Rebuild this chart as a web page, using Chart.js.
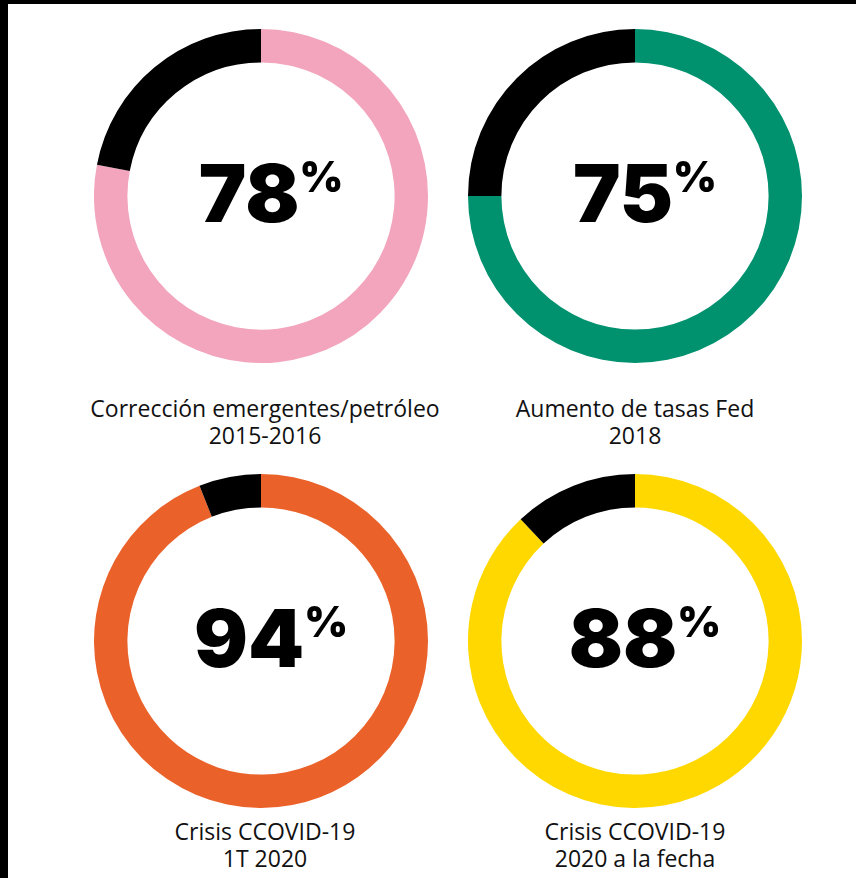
<!DOCTYPE html>
<html>
<head>
<meta charset="utf-8">
<script src="https://cdn.jsdelivr.net/npm/chart.js@4"></script>
<style>
  body { margin: 0; width: 856px; height: 878px; background: #fff; position: relative; overflow: hidden; }
  .frameTop { position: absolute; left: 0; top: 0; width: 856px; height: 4px; background: #000; }
  .frameLeft { position: absolute; left: 0; top: 0; width: 8px; height: 878px; background: #000; }
  .donut { position: absolute; width: 334px; height: 334px; }
  .label { position: absolute; width: 440px; text-align: center; font-family: "Open Sans", sans-serif; font-size: 23px; line-height: 27px; color: #111; }
</style>
</head>
<body>
<div class="frameTop"></div>
<div class="frameLeft"></div>

<div class="donut" style="left:94px;top:29px"><canvas id="c0"></canvas></div>
<div class="donut" style="left:468px;top:29px"><canvas id="c1"></canvas></div>
<div class="donut" style="left:94px;top:474px"><canvas id="c2"></canvas></div>
<div class="donut" style="left:468px;top:474px"><canvas id="c3"></canvas></div>

<div class="label" id="l0" style="left:45px;top:395px"></div>
<div class="label" id="l1" style="left:415px;top:395px"></div>
<div class="label" id="l2" style="left:45px;top:818px"></div>
<div class="label" id="l3" style="left:415px;top:818px"></div>

<script>
var episodes = ['Corrección emergentes/petróleo', 'Aumento de tasas Fed', 'Crisis CCOVID-19', 'Crisis CCOVID-19'];
var periods = ['2015-2016', '2018', '1T 2020', '2020 a la fecha'];
var shares = [78, 75, 94, 88];
var colors = ['#F2A5BC', '#00916E', '#EA622A', '#FFD800'];

// big number in the middle, with a small raised % sign
var centerText = {
  id: 'centerText',
  afterDraw: function (chart) {
    var meta = chart.getDatasetMeta(0).data[0];
    var cx = meta.x, cy = meta.y;
    var ctx = chart.ctx;
    var num = String(chart.data.datasets[0].data[0]);
    var bigFont = '900 80px Inter, "Liberation Sans", sans-serif';
    var smallFont = '900 42px Inter, "Liberation Sans", sans-serif';
    ctx.save();
    ctx.fillStyle = '#000';
    ctx.textBaseline = 'alphabetic';
    ctx.textAlign = 'left';
    ctx.font = bigFont;
    var w1 = ctx.measureText(num).width;
    ctx.font = smallFont;
    var w2 = ctx.measureText('%').width;
    var x0 = cx - (w1 + w2) / 2 + 10;
    ctx.font = bigFont;
    ctx.fillText(num, x0, cy + 26);
    ctx.font = smallFont;
    ctx.fillText('%', x0 + w1, cy - 4);
    ctx.restore();
  }
};

for (var i = 0; i < shares.length; i++) {
  document.getElementById('l' + i).innerHTML = episodes[i] + '<br>' + periods[i];
  new Chart(document.getElementById('c' + i).getContext('2d'), {
    type: 'doughnut',
    data: {
      labels: ['Sí', 'No'],
      datasets: [{
        data: [shares[i], 100 - shares[i]],
        backgroundColor: [colors[i], '#000000'],
        borderWidth: 0
      }]
    },
    options: {
      responsive: true,
      maintainAspectRatio: false,
      animation: false,
      cutout: '80%',
      plugins: {
        legend: { display: false },
        tooltip: { enabled: false }
      }
    },
    plugins: [centerText]
  });
}
</script>
</body>
</html>
